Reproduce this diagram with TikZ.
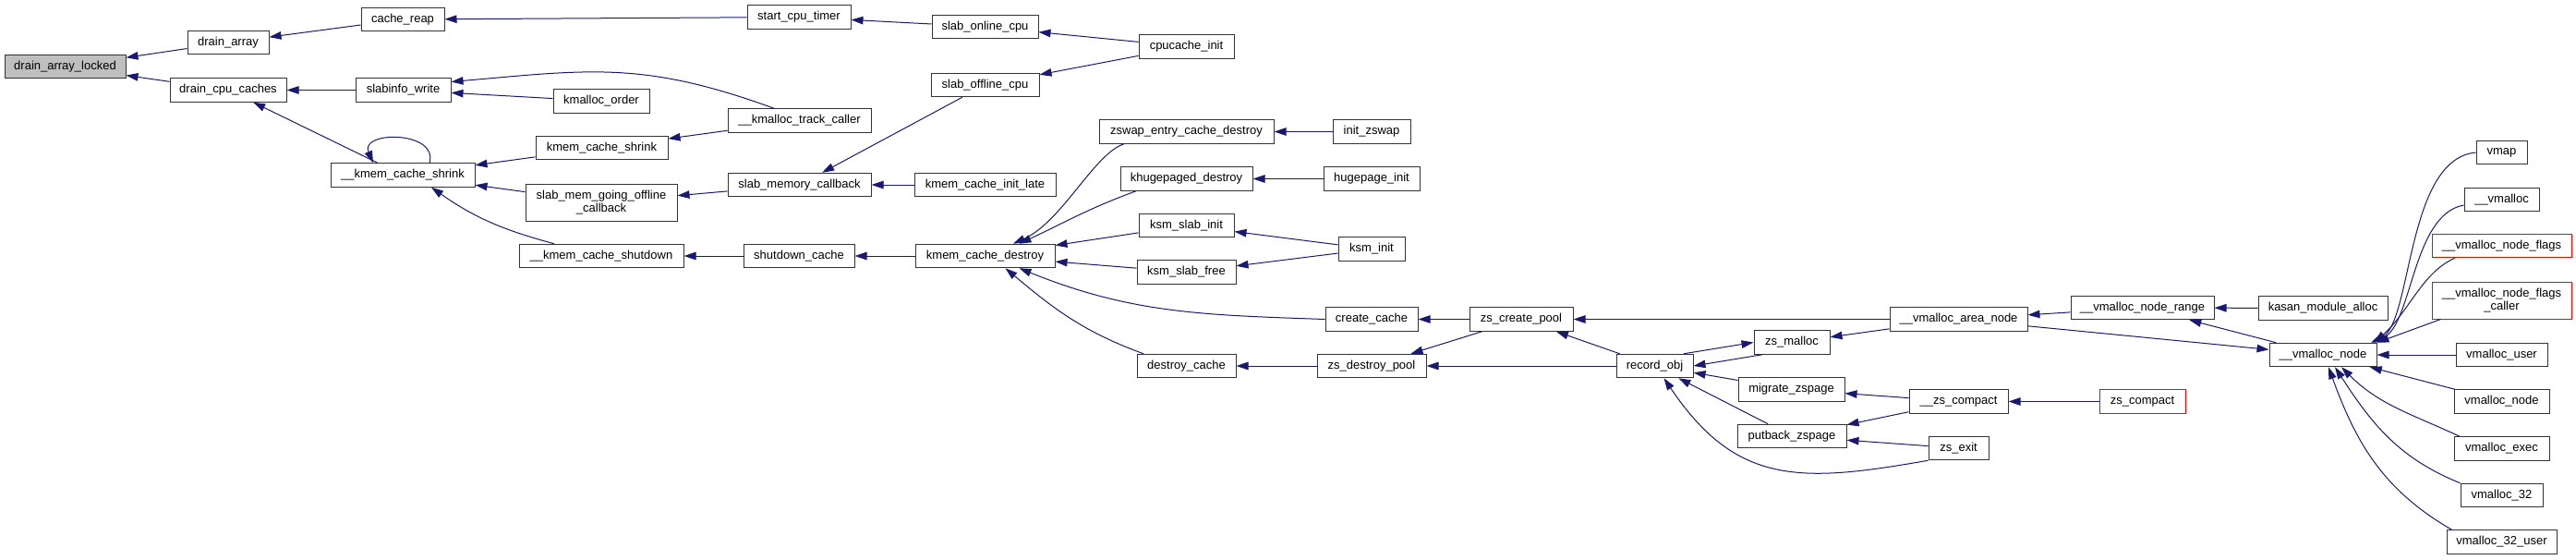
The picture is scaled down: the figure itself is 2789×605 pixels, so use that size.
\documentclass[tikz,border=0pt]{standalone}
\usepackage{fontspec}
\setmainfont{Liberation Sans}
\usetikzlibrary{arrows.meta}
\definecolor{edgeblue}{HTML}{191970}
\definecolor{boxline}{HTML}{333333}
\begin{document}
\begin{tikzpicture}[
  x=1pt, y=1pt,
  fn/.style={draw=boxline, fill=white, line width=1pt, minimum height=25.5pt,
             inner sep=0pt, align=center, font=\fontsize{13}{14}\selectfont},
  root/.style={fn, fill=black!25},
  trunc/.style={fn, draw=red},
  call/.style={-{Triangle[length=13pt,width=8.5pt]}, draw=edgeblue,
               fill=none, line width=1pt},
]
\useasboundingbox (0,0) rectangle (2789,-605);
% Cột 0-2: slab
\node[root, minimum width=131pt] (dal) at (70.5,-72) {drain\_array\_locked};
\node[fn, minimum width=88pt] (drainarr) at (247,-46) {drain\_array};
\node[fn, minimum width=126pt] (draincpu) at (247,-97.5) {drain\_cpu\_caches};
\node[fn, minimum width=90pt] (cachereap) at (436,-21) {cache\_reap};
\node[fn, minimum width=103pt] (slabinfo) at (436.5,-97.5) {slabinfo\_write};
\node[fn, minimum width=156pt] (kshrinkint) at (436,-189.5) {\_\_kmem\_cache\_shrink};
% Cột 3-4
\node[fn, minimum width=104pt] (kmorder) at (651,-109.5) {kmalloc\_order};
\node[fn, minimum width=143pt] (kshrink) at (651.5,-160) {kmem\_cache\_shrink};
\node[fn, minimum width=164pt, minimum height=40pt] (goingoff) at (651,-219)
  {slab\_mem\_going\_offline\\\_callback};
\node[fn, minimum width=178pt] (kshutdown) at (651,-277) {\_\_kmem\_cache\_shutdown};
\node[fn, minimum width=112pt] (cputimer) at (865,-18.5) {start\_cpu\_timer};
\node[fn, minimum width=155pt] (trackcaller) at (865.5,-130.5) {\_\_kmalloc\_track\_caller};
\node[fn, minimum width=155pt] (memcb) at (865.5,-200) {slab\_memory\_callback};
\node[fn, minimum width=120pt] (shutcache) at (865,-277) {shutdown\_cache};
% Cột 5-6
\node[fn, minimum width=115pt] (onlinecpu) at (1066.5,-29) {slab\_online\_cpu};
\node[fn, minimum width=117pt] (offlinecpu) at (1066.5,-92) {slab\_offline\_cpu};
\node[fn, minimum width=153pt] (initlate) at (1066.5,-200) {kmem\_cache\_init\_late};
\node[fn, minimum width=151pt] (kdestroy) at (1066.5,-277) {kmem\_cache\_destroy};
\node[fn, minimum width=103pt] (cpucache) at (1284.5,-50.5) {cpucache\_init};
\node[fn, minimum width=189pt] (zswapdestroy) at (1284.5,-142.5) {zswap\_entry\_cache\_destroy};
\node[fn, minimum width=143pt] (khugedestroy) at (1284.5,-193.5) {khugepaged\_destroy};
\node[fn, minimum width=103pt] (ksmslabinit) at (1284.5,-244) {ksm\_slab\_init};
\node[fn, minimum width=107pt] (ksmslabfree) at (1284.5,-294.5) {ksm\_slab\_free};
\node[fn, minimum width=107pt] (destroycache) at (1284.5,-396) {destroy\_cache};
% Cột 7-8: zsmalloc
\node[fn, minimum width=84pt] (initzswap) at (1485,-142.5) {init\_zswap};
\node[fn, minimum width=104pt] (hugeinit) at (1485,-193.5) {hugepage\_init};
\node[fn, minimum width=72pt] (ksminit) at (1485,-269.5) {ksm\_init};
\node[fn, minimum width=100pt] (createcache) at (1485,-345.5) {create\_cache};
\node[fn, minimum width=118pt] (zsdestroy) at (1485,-396) {zs\_destroy\_pool};
\node[fn, minimum width=112pt] (zscreate) at (1647,-345.5) {zs\_create\_pool};
\node[fn, minimum width=83pt] (recordobj) at (1791.5,-396) {record\_obj};
\node[fn, minimum width=82pt] (zsmalloc) at (1940,-370.5) {zs\_malloc};
\node[fn, minimum width=115pt] (migrate) at (1939.5,-421.5) {migrate\_zspage};
\node[fn, minimum width=118pt] (putback) at (1940,-472) {putback\_zspage};
\node[fn, minimum width=149pt] (areanode) at (2120.5,-345.5) {\_\_vmalloc\_area\_node};
\node[fn, minimum width=107pt] (zscompactint) at (2120.5,-434.5) {\_\_zs\_compact};
\node[fn, minimum width=65pt] (zsexit) at (2120.5,-485) {zs\_exit};
\node[trunc, minimum width=93pt] (zscompact) at (2319.5,-434.5) {zs\_compact};
% Cột 9-11: vmalloc
\node[fn, minimum width=155pt] (noderange) at (2319.5,-333) {\_\_vmalloc\_node\_range};
\node[fn, minimum width=140pt] (kasan) at (2515,-333.5) {kasan\_module\_alloc};
\node[fn, minimum width=116pt] (vnode) at (2515,-384) {\_\_vmalloc\_node};
\node[fn, minimum width=55pt] (vmap) at (2708.5,-165) {vmap};
\node[fn, minimum width=81pt] (vmalloc) at (2708.5,-216) {\_\_vmalloc};
\node[trunc, minimum width=151pt] (vnflags) at (2708.5,-266) {\_\_vmalloc\_node\_flags};
\node[trunc, minimum width=151pt, minimum height=40pt] (vnfcaller) at (2708.5,-325)
  {\_\_vmalloc\_node\_flags\\\_caller};
\node[fn, minimum width=99pt] (vuser) at (2708.5,-384) {vmalloc\_user};
\node[fn, minimum width=103pt] (vnodepub) at (2708.5,-434.5) {vmalloc\_node};
\node[fn, minimum width=103pt] (vexec) at (2708.5,-485.5) {vmalloc\_exec};
\node[fn, minimum width=89pt] (v32) at (2708.5,-536) {vmalloc\_32};
\node[fn, minimum width=119pt] (v32user) at (2708.5,-586.5) {vmalloc\_32\_user};

% Liên kết
\draw[call] (drainarr) -- (dal);
\draw[call] (draincpu) -- (dal);
\draw[call] (cachereap) -- (drainarr);
\draw[call] (slabinfo) -- (draincpu);
\draw[call] (kshrinkint) -- (draincpu);
\draw[call] ([xshift=29pt]kshrinkint.north) .. controls +(10,35) and +(-15,35)
  .. ([xshift=-32pt]kshrinkint.north);
\draw[call] (cputimer) -- (cachereap);
\draw[call] ([xshift=-27.5pt]trackcaller.north) to[out=160,in=5,looseness=1.1]
  ([yshift=9pt]slabinfo.east);
\draw[call] (kmorder) -- (slabinfo);
\draw[call] (trackcaller) -- (kshrink);
\draw[call] (kshrink) -- (kshrinkint);
\draw[call] (goingoff) -- (kshrinkint);
\draw[call] ([xshift=-51pt]kshutdown.north) to[out=165,in=-35]
  ([xshift=31pt]kshrinkint.south);
\draw[call] (memcb) -- (goingoff);
\draw[call] (shutcache) -- (kshutdown);
\draw[call] (offlinecpu) -- (memcb);
\draw[call] (onlinecpu) -- (cputimer);
\draw[call] (cpucache) -- (onlinecpu);
\draw[call] (cpucache) -- (offlinecpu);
\draw[call] (initlate) -- (memcb);
\draw[call] (kdestroy) -- (shutcache);
\draw[call] ([xshift=-67.5pt]zswapdestroy.south) .. controls +(-32,-10) and +(53,24)
  .. ([xshift=30.5pt]kdestroy.north);
\draw[call] ([xshift=-54.5pt]khugedestroy.south) to[out=200,in=25]
  ([xshift=37pt]kdestroy.north);
\draw[call] (ksmslabinit) -- (kdestroy);
\draw[call] (ksmslabfree) -- (kdestroy);
\draw[call] (createcache.west) to[out=178,in=-22] ([xshift=37pt]kdestroy.south);
\draw[call] ([xshift=-46.5pt]destroycache.north) to[out=160,in=-40]
  ([xshift=22pt]kdestroy.south);
\draw[call] (initzswap) -- (zswapdestroy);
\draw[call] (hugeinit) -- (khugedestroy);
\draw[call] (ksminit) -- (ksmslabinit);
\draw[call] (ksminit) -- (ksmslabfree);
\draw[call] (zscreate) -- (createcache);
\draw[call] (zsdestroy) -- (destroycache);
\draw[call] (zscreate) -- (zsdestroy);
\draw[call] (recordobj) -- (zscreate);
\draw[call] (recordobj) -- (zsdestroy);
\draw[call] (areanode) -- (zscreate);
\draw[call] ([xshift=31.5pt]recordobj.north) -- (zsmalloc.west);
\draw[call] ([xshift=-32pt]zsmalloc.south) -- (recordobj.east);
\draw[call] (migrate) -- (recordobj);
\draw[call] (putback) -- (recordobj);
\draw[call] (zsexit.south west) to[out=190,in=-56,looseness=1.2]
  ([xshift=10pt]recordobj.south);
\draw[call] (areanode) -- (zsmalloc);
\draw[call] (zscompactint) -- (migrate);
\draw[call] (zscompactint) -- (putback);
\draw[call] (zsexit) -- (putback);
\draw[call] (zscompact) -- (zscompactint);
\draw[call] (noderange) -- (areanode);
\draw[call] (areanode) -- (vnode);
\draw[call] (kasan) -- (noderange);
\draw[call] (vnode) -- (noderange);
\draw[call] (vmap.west) .. controls +(-76,-7) and +(45,21) .. ([xshift=52pt]vnode.north);
\draw[call] ([yshift=-6pt]vmalloc.west) .. controls +(-56,-10) and +(43,20)
  .. ([xshift=54pt]vnode.north);
\draw[call] ([xshift=-50.5pt]vnflags.south) .. controls +(-35,-15) and +(38,35)
  .. ([xshift=56pt]vnode.north);
\draw[call] ([xshift=-66pt]vnfcaller.south) -- (vnode.north east);
\draw[call] (vuser) -- (vnode);
\draw[call] (vnodepub) -- (vnode);
\draw[call] ([xshift=-45.5pt]vexec.north) to[out=155,in=-45] ([xshift=20pt]vnode.south);
\draw[call] (v32.north west) to[out=158,in=-57] ([xshift=13pt]vnode.south);
\draw[call] ([xshift=6pt]v32user.north west) to[out=150,in=-70]
  ([xshift=6pt]vnode.south);
\end{tikzpicture}
\end{document}
